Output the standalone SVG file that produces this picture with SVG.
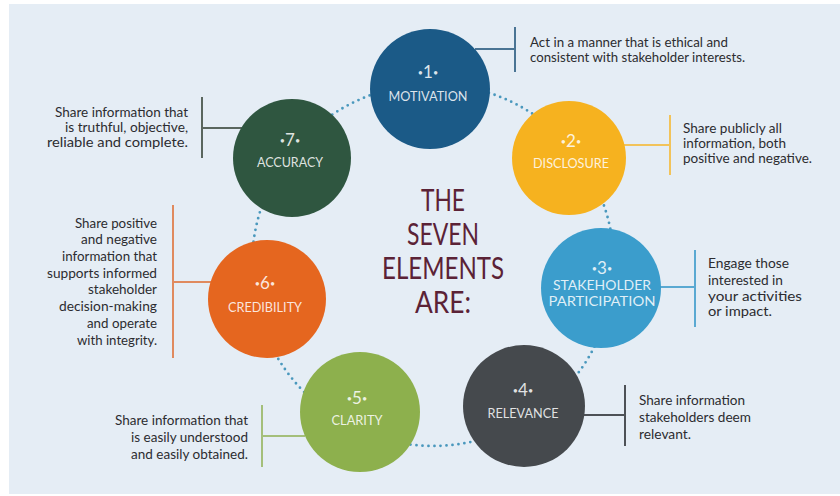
<svg xmlns="http://www.w3.org/2000/svg" width="840" height="496" viewBox="0 0 840 496">
<style>
.bg{fill:#e5edf5}
.ring{fill:none;stroke:#4a98bd;stroke-width:2.8;stroke-linecap:round;stroke-dasharray:0 6}
.num{font-family:Lato,"Liberation Sans",sans-serif;font-size:17px;fill:#ffffff;fill-opacity:.85;text-anchor:middle}
.dot{font-size:9px}
.lbl{font-family:Lato,"Liberation Sans",sans-serif;font-size:14px;fill:#ffffff;fill-opacity:.85;text-anchor:middle}
.txt{font-family:Lato,"Liberation Sans",sans-serif;font-size:13px;fill:#2c2c30}
.title{font-family:Lato,"Liberation Sans",sans-serif;font-size:30px;fill:#5b2236;text-anchor:middle}
.br{fill:none;stroke-width:2}
</style>
<rect width="840" height="496" fill="#ffffff"/>
<rect class="bg" x="9" y="4" width="831" height="490"/>

<g id="connectors">
<path class="ring" d="M429.8,84 A181,181 0 0 1 575.3,153.1"/>
<path class="ring" d="M575.3,153.1 A181,181 0 0 1 612.3,289.6"/>
<path class="ring" d="M612.3,289.6 A181,181 0 0 1 531,417.1"/>
<path class="ring" d="M531,417.1 A181,181 0 0 1 352.5,427.1"/>
<path class="ring" d="M352.5,427.1 A181,181 0 0 1 255.7,301.4"/>
<path class="ring" d="M255.7,301.4 A181,181 0 0 1 288.8,155.6"/>
<path class="ring" d="M288.8,155.6 A181,181 0 0 1 429.8,84"/>
</g>

<g id="title">
<text class="title" x="443" y="211" textLength="44" lengthAdjust="spacingAndGlyphs">THE</text>
<text class="title" x="443" y="245" textLength="72" lengthAdjust="spacingAndGlyphs">SEVEN</text>
<text class="title" x="443" y="279" textLength="122" lengthAdjust="spacingAndGlyphs">ELEMENTS</text>
<text class="title" x="443" y="313" textLength="56" lengthAdjust="spacingAndGlyphs">ARE:</text>
</g>

<g id="node1">
<path class="br" stroke="#4a7494" d="M475,49H515M515,27V72"/>
<circle cx="430" cy="89" r="60" fill="#1b5a87"/>
<text class="num" x="428" y="78"><tspan class="dot" dy="-2">•</tspan><tspan dy="2">1</tspan><tspan class="dot" dy="-2">•</tspan></text>
<text class="lbl" x="428" y="101" textLength="79" lengthAdjust="spacingAndGlyphs">MOTIVATION</text>
<text class="txt" x="530" y="46.5" textLength="198" lengthAdjust="spacingAndGlyphs">Act in a manner that is ethical and</text>
<text class="txt" x="530" y="61.5" textLength="215" lengthAdjust="spacingAndGlyphs">consistent with stakeholder interests.</text>
</g>

<g id="node2">
<path class="br" stroke="#f2c35a" d="M615,145H670M670,115V175"/>
<circle cx="569" cy="158" r="57" fill="#f6b21f"/>
<text class="num" x="571" y="147"><tspan class="dot" dy="-2">•</tspan><tspan dy="2">2</tspan><tspan class="dot" dy="-2">•</tspan></text>
<text class="lbl" x="571" y="168" textLength="76" lengthAdjust="spacingAndGlyphs">DISCLOSURE</text>
<text class="txt" x="683" y="133" textLength="99" lengthAdjust="spacingAndGlyphs">Share publicly all</text>
<text class="txt" x="683" y="148" textLength="103" lengthAdjust="spacingAndGlyphs">information, both</text>
<text class="txt" x="683" y="163" textLength="129" lengthAdjust="spacingAndGlyphs">positive and negative.</text>
</g>

<g id="node3">
<path class="br" stroke="#5aa9d2" d="M655,287H695M695,250V327"/>
<circle cx="601" cy="288" r="60" fill="#3b9dcc"/>
<text class="num" x="602" y="274"><tspan class="dot" dy="-2">•</tspan><tspan dy="2">3</tspan><tspan class="dot" dy="-2">•</tspan></text>
<text class="lbl" x="602" y="290" textLength="98" lengthAdjust="spacingAndGlyphs">STAKEHOLDER</text>
<text class="lbl" x="602" y="306" textLength="107" lengthAdjust="spacingAndGlyphs">PARTICIPATION</text>
<text class="txt" x="708" y="268" textLength="81" lengthAdjust="spacingAndGlyphs">Engage those</text>
<text class="txt" x="708" y="285" textLength="75" lengthAdjust="spacingAndGlyphs">interested in</text>
<text class="txt" x="708" y="301" textLength="94" lengthAdjust="spacingAndGlyphs">your activities</text>
<text class="txt" x="708" y="316" textLength="64" lengthAdjust="spacingAndGlyphs">or impact.</text>
</g>

<g id="node4">
<path class="br" stroke="#4d5156" d="M580,415H625M625,385V446"/>
<circle cx="524" cy="406" r="61" fill="#45494d"/>
<text class="num" x="523" y="396"><tspan class="dot" dy="-2">•</tspan><tspan dy="2">4</tspan><tspan class="dot" dy="-2">•</tspan></text>
<text class="lbl" x="523" y="418" textLength="71" lengthAdjust="spacingAndGlyphs">RELEVANCE</text>
<text class="txt" x="639" y="405" textLength="106" lengthAdjust="spacingAndGlyphs">Share information</text>
<text class="txt" x="639" y="422" textLength="112" lengthAdjust="spacingAndGlyphs">stakeholders deem</text>
<text class="txt" x="639" y="439" textLength="52" lengthAdjust="spacingAndGlyphs">relevant.</text>
</g>

<g id="node5">
<path class="br" stroke="#a4bf7a" d="M262,436H305M262,405V467"/>
<circle cx="360" cy="412" r="60" fill="#8db04d"/>
<text class="num" x="357" y="404"><tspan class="dot" dy="-2">•</tspan><tspan dy="2">5</tspan><tspan class="dot" dy="-2">•</tspan></text>
<text class="lbl" x="357" y="425" textLength="51" lengthAdjust="spacingAndGlyphs">CLARITY</text>
<text class="txt" x="115" y="425" textLength="133" lengthAdjust="spacingAndGlyphs">Share information that</text>
<text class="txt" x="131" y="442" textLength="117" lengthAdjust="spacingAndGlyphs">is easily understood</text>
<text class="txt" x="131" y="459" textLength="117" lengthAdjust="spacingAndGlyphs">and easily obtained.</text>
</g>

<g id="node6">
<path class="br" stroke="#e08a5e" d="M173,282H215M173,205V358"/>
<circle cx="267" cy="299" r="59" fill="#e5661f"/>
<text class="num" x="265" y="289"><tspan class="dot" dy="-2">•</tspan><tspan dy="2">6</tspan><tspan class="dot" dy="-2">•</tspan></text>
<text class="lbl" x="265" y="312" textLength="74" lengthAdjust="spacingAndGlyphs">CREDIBILITY</text>
<text class="txt" x="75" y="228" textLength="82" lengthAdjust="spacingAndGlyphs">Share positive</text>
<text class="txt" x="81" y="244" textLength="76" lengthAdjust="spacingAndGlyphs">and negative</text>
<text class="txt" x="62" y="261" textLength="95" lengthAdjust="spacingAndGlyphs">information that</text>
<text class="txt" x="47" y="278" textLength="110" lengthAdjust="spacingAndGlyphs">supports informed</text>
<text class="txt" x="88" y="294" textLength="69" lengthAdjust="spacingAndGlyphs">stakeholder</text>
<text class="txt" x="59" y="311" textLength="98" lengthAdjust="spacingAndGlyphs">decision-making</text>
<text class="txt" x="87" y="328" textLength="70" lengthAdjust="spacingAndGlyphs">and operate</text>
<text class="txt" x="77" y="345" textLength="80" lengthAdjust="spacingAndGlyphs">with integrity.</text>
</g>

<g id="node7">
<path class="br" stroke="#5a665e" d="M202,128H245M202,97V158"/>
<circle cx="292" cy="158" r="59" fill="#2f5640"/>
<text class="num" x="290" y="146"><tspan class="dot" dy="-2">•</tspan><tspan dy="2">7</tspan><tspan class="dot" dy="-2">•</tspan></text>
<text class="lbl" x="290" y="167" textLength="66" lengthAdjust="spacingAndGlyphs">ACCURACY</text>
<text class="txt" x="55" y="117" textLength="133" lengthAdjust="spacingAndGlyphs">Share information that</text>
<text class="txt" x="65" y="132" textLength="123" lengthAdjust="spacingAndGlyphs">is truthful, objective,</text>
<text class="txt" x="47" y="147" textLength="141" lengthAdjust="spacingAndGlyphs">reliable and complete.</text>
</g>
</svg>
